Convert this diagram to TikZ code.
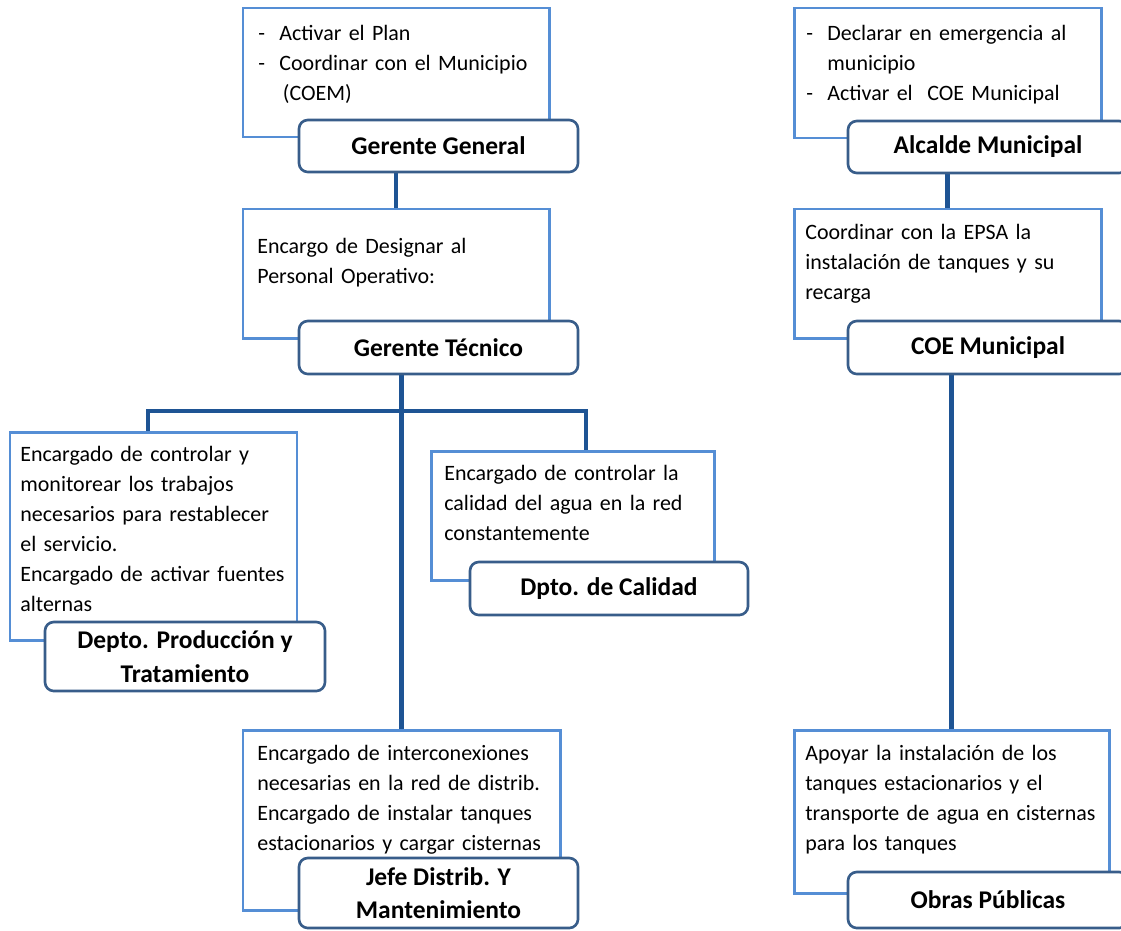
\documentclass[tikz,border=0pt]{standalone}
\usepackage{fontspec}
\setmainfont{Carlito}
\usepackage{tikz}
\usetikzlibrary{positioning,%
  fit,%
  calc}

\definecolor{boxblue}{RGB}{85,142,213}
\definecolor{headblue}{RGB}{56,93,138}
\definecolor{lineblue}{RGB}{30,84,148}
\newcommand{\guion}{\makebox[12pt][l]{-}}

\begin{document}
\begin{tikzpicture}[x=0.02cm,y=-0.02cm,
    cuadro/.style={draw=boxblue,line width=1.7pt,fill=white,inner sep=0pt},
    cargo/.style={draw=headblue,line width=1.5pt,fill=white,rounded corners=5pt,inner sep=0pt},
    cargotexto/.style={inner sep=0pt,align=center,font=\fontsize{14.5}{19}\selectfont\bfseries},
    nota/.style={anchor=base west,inner sep=0pt,text width=6.5cm,align=left,
      font=\fontsize{12.5}{17.1}\selectfont},
    enlace/.style={draw=lineblue,line width=2.5pt}]
    \useasboundingbox (0,0) rectangle (1121,930);
    \clip (0,0) rectangle (1121,930);

    % columna de la EPSA
    \node[cuadro,fit={(243,8)(549,137)}] (ggcuadro) {};
    \node[nota] (ggnota) at (258,40) {\guion Activar el Plan\\ \guion Coordinar con el Municipio\\ \hspace*{14pt}(COEM)};
    \node[cuadro,fit={(243,209)(549,338)}] (gtcuadro) {};
    \node[nota] (gtnota) at (257,253) {Encargo de Designar al\\ Personal Operativo:};
    \node[cuadro,fit={(10,432)(297,640)}] (prodcuadro) {};
    \node[nota] (prodnota) at (20,461) {Encargado de controlar y\\ monitorear los trabajos\\ necesarios para restablecer\\ el servicio.\\ Encargado de activar fuentes\\ alternas};
    \node[cuadro,fit={(431,451)(714,580)}] (calcuadro) {};
    \node[nota] (calnota) at (444,480) {Encargado de controlar la\\ calidad del agua en la red\\ constantemente};
    \node[cuadro,fit={(243,730)(560,910)}] (jefecuadro) {};
    \node[nota] (jefenota) at (257,760) {Encargado de interconexiones\\ necesarias en la red de distrib.\\ Encargado de instalar tanques\\ estacionarios y cargar cisternas};

    % columna del municipio
    \node[cuadro,fit={(794,8)(1101,138)}] (alccuadro) {};
    \node[nota] (alcnota) at (806,40) {\guion Declarar en emergencia al\\ \hspace*{12pt}municipio\\ \guion Activar el\ \ COE Municipal};
    \node[cuadro,fit={(794,209)(1101,338)}] (coecuadro) {};
    \node[nota] (coenota) at (805,239) {Coordinar con la EPSA la\\ instalación de tanques y su\\ recarga};
    \node[cuadro,fit={(794,730)(1109,893)}] (obrascuadro) {};
    \node[nota] (obrasnota) at (805,760) {Apoyar la instalación de los\\ tanques estacionarios y el\\ transporte de agua en cisternas\\ para los tanques};

    % enlaces
    \coordinate (busizq) at (148,411);
    \coordinate (busder) at (586,411);
    \draw[enlace] (gtcuadro.north) -- (gtcuadro.north |- 0,172);
    \draw[enlace] (jefecuadro.north) -- (jefecuadro.north |- 0,374);
    \draw[enlace] (prodcuadro.north -| busizq) -- (busizq) -- (busder) -- (calcuadro.north -| busder);
    \draw[enlace] (coecuadro.north) -- (coecuadro.north |- 0,173);
    \draw[enlace] (obrascuadro.north) -- (obrascuadro.north |- 0,374);

    % cargos
    \node[cargo,fit={(299,120)(578,172)},label={[cargotexto]center:Gerente General}] (gg) {};
    \node[cargo,fit={(299,321)(578,374)},label={[cargotexto]center:Gerente Técnico}] (gt) {};
    \node[cargo,fit={(45,622)(325,691)},label={[cargotexto]center:Depto. Producción y\\ Tratamiento}] (prod) {};
    \node[cargo,fit={(470,562)(748,615)},label={[cargotexto]center:Dpto. de Calidad}] (cal) {};
    \node[cargo,fit={(299,858)(578,928)},label={[cargotexto]center:Jefe Distrib. Y\\ Mantenimiento}] (jefe) {};
    \node[cargo,fit={(848,121)(1128,173)},label={[cargotexto]center:Alcalde Municipal}] (alc) {};
    \node[cargo,fit={(848,321)(1128,374)},label={[cargotexto]center:COE Municipal}] (coe) {};
    \node[cargo,fit={(848,872)(1128,928)},label={[cargotexto]center:Obras Públicas}] (obras) {};
\end{tikzpicture}
\end{document}
